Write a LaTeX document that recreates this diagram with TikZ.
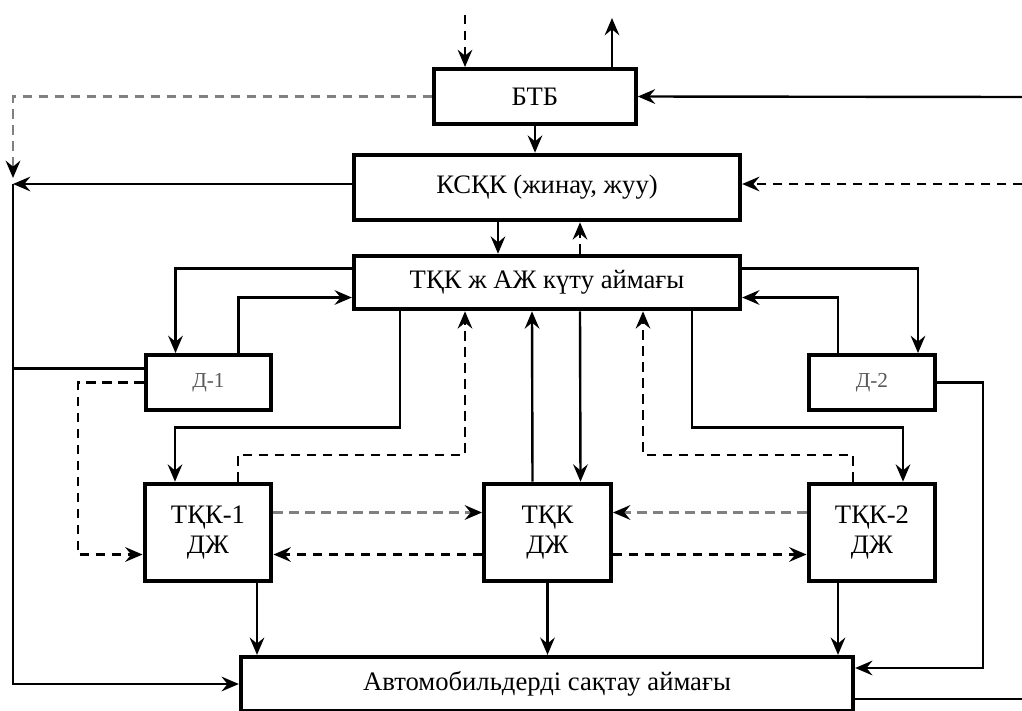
\documentclass[tikz,border=0pt]{standalone}
\usepackage{fontspec}
\setmainfont{Liberation Serif}
\usetikzlibrary{arrows.meta,calc}

\begin{document}
\begin{tikzpicture}[
x=0.75pt,y=-0.75pt,
>={Stealth[length=13pt,width=11pt,inset=4.5pt]},
every node/.style={draw,line width=3.2pt,align=center,font=\fontsize{20}{24}\selectfont},
smallbox/.style={minimum width=94pt,minimum height=41pt,text=black!65,font=\fontsize{16}{19}\selectfont},
djbox/.style={minimum width=95pt,minimum height=73pt,font=\fontsize{20}{22}\selectfont},
flow/.style={line width=1.8pt,->},
back/.style={line width=1.8pt,->,dash pattern=on 7pt off 5pt},
side/.style={line width=1.8pt,dash pattern=on 7pt off 5pt,black!50,
  -{Stealth[length=13pt,width=11pt,inset=4.5pt,color=black]}}
]
\useasboundingbox (0,0) rectangle (1022,711);
\clip (0,0) rectangle (1022,711);
\node[minimum width=151pt,minimum height=41pt] (btb) at (535,96.5) {БТБ};
\node[minimum width=289.5pt,minimum height=49pt] (kskk) at (547,187.5) {КСҚК (жинау, жуу)};
\node[minimum width=289.5pt,minimum height=40pt] (zone) at (547,282.5) {ТҚК ж АЖ күту аймағы};
\node[smallbox] (d1) at (208.5,382.5) {Д-1};
\node[smallbox] (d2) at (872,382.5) {Д-2};
\node[djbox] (t1) at (208,532.5) {ТҚК-1\\ДЖ};
\node[djbox] (t0) at (547.5,532.5) {ТҚК\\ДЖ};
\node[djbox] (t2) at (872,532.5) {ТҚК-2\\ДЖ};
\node[minimum width=459pt,minimum height=40.5pt] (avto) at (547,684) {Автомобильдерді сақтау аймағы};
\coordinate (in1) at (465,15);
\coordinate (out1) at (612,18);
\coordinate (r1) at (1022,97);
\coordinate (r2) at (1022,184);
\coordinate (r3) at (1022,699);
\coordinate (j0) at (13,178);
\coordinate (j1) at (13,184);
\draw[back] (in1) -- (in1 |- btb.north);
\draw[flow] (out1 |- btb.north) -- (out1);
\draw[flow] (r1) -- (btb.east);
\draw[side] (btb.west) -| (j0);
\draw[flow] (btb.south) -- (btb.south |- kskk.north);
\draw[back] (r2) -- (r2 -| kskk.east);
\draw[flow] (kskk.west |- j1) -- (j1);
\draw[flow] (j1) |- (avto.west);
\draw[flow] ($(kskk.south)+(-49,0)$) -- ($(zone.north)+(-49,0)$);
\draw[back] ($(zone.north)+(33,0)$) -- ($(kskk.south)+(33,0)$);
\draw[flow] ($(zone.west)+(0,-14)$) -| ($(d1.north)+(-33,0)$);
\draw[flow] ($(d1.north)+(30,0)$) |- ($(zone.west)+(0,15)$);
\draw[flow] ($(zone.east)+(0,-14)$) -| ($(d2.north)+(46,0)$);
\draw[flow] ($(d2.north)+(-34,0)$) |- ($(zone.east)+(0,15)$);
\draw[line width=1.8pt] ($(d1.west)+(0,-14)$) coordinate (a1) -- (a1 -| j1);
\draw[back] (d1.west) -- ++(-66,0) |- ($(t1.west)+(0,22)$);
\draw[flow] (d2.east) -- ++(46,0) |- ($(avto.east)+(0,-16)$);
\draw[line width=1.8pt] (r3 -| avto.east) -- (r3);
\draw[flow] ($(zone.south)+(-147,0)$) -- ++(0,116) -| ($(t1.north)+(-33,0)$);
\draw[back] ($(t1.north)+(30,0)$) -- ++(0,-27) -| ($(zone.south)+(-82,0)$);
\draw[flow] ($(t0.north)+(-15,0)$) -- ($(zone.south)+(-15,0)$);
\draw[flow] ($(zone.south)+(33,0)$) -- ($(t0.north)+(33,0)$);
\draw[back] ($(t2.north)+(-19,0)$) -- ++(0,-27) -| ($(zone.south)+(96,0)$);
\draw[flow] ($(zone.south)+(145,0)$) -- ++(0,116) -| ($(t2.north)+(31,0)$);
\draw[side] ($(t1.east)+(0,-20)$) -- ($(t0.west)+(0,-20)$);
\draw[back] ($(t0.west)+(0,22)$) -- ($(t1.east)+(0,22)$);
\draw[side] ($(t2.west)+(0,-20)$) -- ($(t0.east)+(0,-20)$);
\draw[back] ($(t0.east)+(0,22)$) -- ($(t2.west)+(0,22)$);
\draw[flow] ($(t1.south)+(49,0)$) coordinate (b1) -- (b1 |- avto.north);
\draw[flow] (t0.south) -- (t0.south |- avto.north);
\draw[flow] ($(t2.south)+(-34,0)$) coordinate (b2) -- (b2 |- avto.north);
\end{tikzpicture}
\end{document}
